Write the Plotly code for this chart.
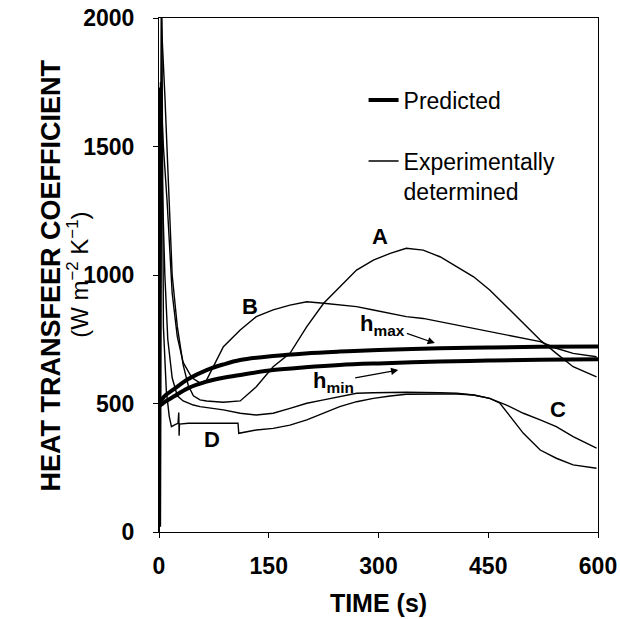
import plotly.graph_objects as go

# ---------------- data ----------------
# Predicted curves
pred_t = [0, 5, 10, 20, 40, 65, 88, 111, 156, 200, 247, 300, 384, 450, 520, 600]
hmax_h = [500, 520, 535, 555, 595, 630, 652, 669, 685, 695, 702, 708, 715, 718, 721, 722]
hmin_h = [490, 500, 510, 527, 560, 585, 600, 611, 630, 641, 650, 656, 663, 667, 670, 672]

# Experimental curves
a_t = [0, 3, 8, 12, 18, 25, 33, 40, 47, 56, 65, 88, 111, 133, 156, 179, 202, 225, 247, 270,
       293, 316, 338, 361, 384, 407, 430, 452, 475, 498, 521, 543, 566, 598]
a_h = [0, 2000, 1700, 1400, 1000, 800, 650, 570, 530, 514, 510, 505, 510, 565, 643, 695, 799, 890, 955, 1019,
       1058, 1084, 1104, 1097, 1071, 1032, 993, 942, 877, 812, 747, 695, 643, 604]

b_t = [0, 2, 6, 11, 18, 25, 33, 45, 56, 65, 88, 111, 133, 156, 179, 202, 225, 247, 270, 293,
       316, 338, 361, 384, 407, 430, 452, 475, 498, 521, 543, 566, 598]
b_h = [0, 1750, 1500, 1290, 930, 760, 660, 600, 580, 591, 721, 786, 838, 864, 883, 896, 890, 883, 877, 864,
       851, 838, 831, 818, 805, 792, 780, 767, 754, 741, 715, 695, 682]

c_t = [0, 2, 5, 8, 12, 18, 25, 33, 47, 56, 88, 111, 133, 156, 179, 202, 225, 247, 270, 293,
       338, 384, 407, 430, 452, 475, 498, 521, 543, 566, 598]
c_h = [0, 1700, 1300, 1000, 750, 600, 530, 510, 494, 488, 475, 462, 455, 462, 481, 501, 514, 527, 540, 542,
       544, 542, 540, 533, 520, 494, 462, 436, 410, 371, 326]

d_t = [0, 1, 2, 3, 4, 6, 10, 14, 17, 22, 26, 27, 27.5, 28, 40, 108, 109, 133, 156, 179, 202, 225, 247,
       270, 293, 316, 338, 384, 407, 430, 452, 466, 475, 498, 521, 543, 566, 598]
d_h = [0, 1730, 20, 1730, 2000, 800, 550, 450, 410, 418, 423, 465, 375, 420, 423, 423, 384, 397, 403, 416, 436, 462, 488,
       507, 520, 529, 536, 537, 537, 533, 520, 501, 468, 384, 319, 287, 261, 248]

x_ticks = [0, 150, 300, 450, 600]
y_ticks = [0, 500, 1000, 1500, 2000]

# curve labels
lab_text = ["A", "B", "C", "D"]
lab_t = [302, 124, 545, 72]
lab_h = [1148, 879, 475, 358]

FONT = "Liberation Sans, Arial, sans-serif"

fig = go.Figure()

fig.add_trace(go.Scatter(x=pred_t, y=hmax_h, mode="lines", name="Predicted",
                         line=dict(color="black", width=4, shape="spline"),
                         legendgroup="p", showlegend=True))
fig.add_trace(go.Scatter(x=pred_t, y=hmin_h, mode="lines", name="Predicted",
                         line=dict(color="black", width=4, shape="spline"),
                         legendgroup="p", showlegend=False))

exp_sets = [(a_t, a_h), (b_t, b_h), (c_t, c_h), (d_t, d_h)]
for i, (tt, hh) in enumerate(exp_sets):
    fig.add_trace(go.Scatter(x=tt, y=hh, mode="lines",
                             name="Experimentally<br>determined",
                             line=dict(color="black", width=1.4),
                             legendgroup="e", showlegend=(i == 0)))

annotations = []
for txt, t, h in zip(lab_text, lab_t, lab_h):
    annotations.append(dict(x=t, y=h, text="<b>%s</b>" % txt, showarrow=False,
                            font=dict(size=22, color="black", family=FONT)))

# h_max / h_min labels with their arrows (text sits at the arrow tail)
annotations.append(dict(x=377, y=735, ax=306, ay=805, axref="x", ayref="y",
                        text="<b>h<sub>max</sub></b>", showarrow=True, arrowhead=2,
                        arrowsize=1.2, arrowwidth=1.2, arrowcolor="black", standoff=0,
                        font=dict(size=22, color="black", family=FONT)))
annotations.append(dict(x=327, y=630, ax=238, ay=584, axref="x", ayref="y",
                        text="<b>h<sub>min</sub></b>", showarrow=True, arrowhead=2,
                        arrowsize=1.2, arrowwidth=1.2, arrowcolor="black", standoff=0,
                        font=dict(size=22, color="black", family=FONT)))

# y axis title (two lines)
annotations.append(dict(xref="paper", yref="paper", x=-0.245, y=0.50, textangle=-90,
                        text="<b>HEAT TRANSFEER COEFFICIENT</b>", showarrow=False,
                        xanchor="center", yanchor="middle",
                        font=dict(size=27, color="black", family=FONT)))
annotations.append(dict(xref="paper", yref="paper", x=-0.185, y=0.50, textangle=-90,
                        text="(W m<sup>\u22122</sup> K<sup>\u22121</sup>)", showarrow=False,
                        xanchor="center", yanchor="middle",
                        font=dict(size=24, color="black", family=FONT)))

fig.update_layout(
    width=620, height=619,
    margin=dict(l=159, r=22, t=18, b=87, autoexpand=False),
    paper_bgcolor="white", plot_bgcolor="white",
    font=dict(family=FONT, color="black"),
    showlegend=True,
    legend=dict(x=0.466, y=0.882, xanchor="left", yanchor="top",
                bgcolor="rgba(0,0,0,0)", font=dict(size=23, family=FONT, color="black"),
                valign="top", tracegroupgap=28, traceorder="grouped"),
    annotations=annotations,
)

fig.update_xaxes(range=[0, 600], tickvals=x_ticks, ticktext=["<b>%d</b>" % v for v in x_ticks],
                 showgrid=False, zeroline=False, showline=True, linecolor="black", linewidth=1,
                 mirror=True, ticks="outside", ticklen=5, tickcolor="black", automargin=False,
                 ticklabelstandoff=8,
                 tickfont=dict(size=23, family=FONT, color="black"),
                 title=dict(text="<b>TIME (s)</b>", font=dict(size=25, family=FONT, color="black"),
                            standoff=16))
fig.update_yaxes(range=[0, 2000], tickvals=y_ticks, ticktext=["<b>%d</b>" % v for v in y_ticks],
                 showgrid=False, zeroline=False, showline=True, linecolor="black", linewidth=1,
                 mirror=True, ticks="outside", ticklen=5, tickcolor="black", automargin=False,
                 ticklabelstandoff=14,
                 tickfont=dict(size=23, family=FONT, color="black"))

fig.write_html("out.html", config={"displayModeBar": False},
               post_script="document.body.style.margin='0';document.body.style.padding='0';")
